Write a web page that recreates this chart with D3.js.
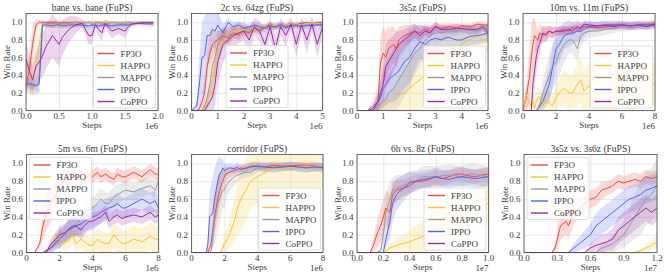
<!DOCTYPE html>
<html>
<head>
<meta charset="utf-8">
<script src="https://cdn.jsdelivr.net/npm/d3@7"></script>
<style>
  body { margin: 0; background: #fff; }
</style>
</head>
<body>
<div id="chart"></div>
<script>
const W = 665, H = 276;

const seriesNames = ["FP3O", "HAPPO", "MAPPO", "IPPO", "CoPPO"];
const seriesColors = ["#f4473a", "#f7c52b", "#9a9a9a", "#5262ee", "#9c2aa8"];

const titles = ["bane vs. bane (FuPS)", "2c vs. 64zg (FuPS)", "3s5z (FuPS)", "10m vs. 11m (FuPS)",
    "5m vs. 6m (FuPS)", "corridor (FuPS)", "6h vs. 8z (FuPS)", "3s5z vs. 3s6z (FuPS)"];
const xMaxes = [2, 5, 5, 8, 8, 8, 1.0, 1.2];
const xTickVals = [
    [0, 0.5, 1.0, 1.5, 2.0], [0, 1, 2, 3, 4, 5], [0, 1, 2, 3, 4, 5], [0, 2, 4, 6, 8],
    [0, 2, 4, 6, 8], [0, 2, 4, 6, 8], [0, 0.2, 0.4, 0.6, 0.8, 1.0], [0, 0.3, 0.6, 0.9, 1.2]
];
const xTickDecimals = [1, 0, 0, 0, 0, 0, 1, 1];
const xExponents = ["1e6", "1e6", "1e6", "1e6", "1e6", "1e6", "1e7", "1e7"];
const yTickVals = [0, 0.2, 0.4, 0.6, 0.8, 1.0];

// bane vs. bane
const steps1 = [0,0.05,0.1,0.15,0.2,0.25,0.3,0.4,0.45,0.5,0.55,0.65,0.75,0.85,0.95,1.0,1.05,1.1,1.15,1.2,1.3,1.4,1.5,1.55,1.6,1.7,1.8,1.93];
const mean1 = [
    [0.28,0.45,0.75,0.97,1.0,1.0,1.0,1.0,1.0,0.99,1.0,1.0,1.0,1.0,1.0,1.0,1.0,1.0,1.0,1.0,1.0,1.0,1.0,1.0,1.0,1.0,1.0,1.0],
    [0.42,0.38,0.35,0.5,0.75,0.97,0.98,0.97,0.97,0.96,0.97,0.97,0.98,1.0,1.0,1.0,1.0,1.0,1.0,1.0,1.0,1.0,1.0,1.0,1.0,1.0,1.0,1.0],
    [0.3,0.3,0.28,0.28,0.35,1.0,0.99,0.98,1.0,0.99,0.98,0.99,1.0,0.99,1.0,0.98,0.99,1.0,0.99,0.98,1.0,0.99,0.99,1.0,0.99,0.99,0.98,0.97],
    [0.3,0.3,0.3,0.28,0.3,0.97,0.97,0.96,0.97,0.97,0.96,0.97,0.97,0.97,0.96,0.97,0.97,0.96,0.97,0.97,0.96,0.97,0.97,0.97,0.98,0.99,1.0,1.0],
    [0.58,0.45,0.35,0.5,0.55,0.62,0.72,0.85,0.8,0.75,0.83,0.92,0.97,0.99,0.85,0.85,0.97,0.92,0.88,0.99,0.9,0.93,0.9,0.95,0.98,0.99,0.99,0.99]
];
const sd1 = [
    [0.1,0.15,0.2,0.06,0.03,0.02,0.02,0.02,0.02,0.02,0.01,0,0,0,0,0,0,0,0,0,0,0,0,0,0,0,0,0],
    [0.15,0.2,0.2,0.25,0.2,0.04,0.03,0.03,0.03,0.03,0.03,0.03,0.02,0.01,0,0,0,0,0,0,0,0,0,0,0,0,0,0],
    [0.1,0.1,0.1,0.1,0.15,0.02,0.02,0.03,0.02,0.02,0.03,0.02,0.02,0.02,0.02,0.03,0.02,0.02,0.02,0.03,0.02,0.02,0.02,0.02,0.02,0.02,0.03,0.03],
    [0.05,0.05,0.06,0.06,0.1,0.03,0.03,0.03,0.03,0.03,0.03,0.03,0.03,0.03,0.03,0.03,0.03,0.03,0.03,0.03,0.03,0.03,0.03,0.03,0.02,0.01,0,0],
    [0.2,0.2,0.15,0.15,0.2,0.25,0.25,0.25,0.25,0.25,0.2,0.15,0.1,0.05,0.1,0.1,0.05,0.08,0.1,0.05,0.08,0.06,0.08,0.05,0.03,0.02,0.02,0.02]
];

// 2c vs. 64zg
const steps2 = [0,0.2,0.3,0.4,0.5,0.6,0.7,0.8,0.9,1.0,1.2,1.4,1.6,1.8,2.0,2.2,2.4,2.6,2.8,3.0,3.2,3.4,3.6,3.8,4.0,4.2,4.4,4.6,4.8,5.0];
const mean2 = [
    [0,0,0.02,0.1,0.2,0.5,0.65,0.75,0.78,0.8,0.85,0.82,0.88,0.86,0.9,0.88,0.93,0.9,0.95,0.97,0.95,0.97,0.96,0.98,0.97,0.99,1.0,0.98,1.0,1.0],
    [0,0,0,0,0.02,0.1,0.2,0.35,0.55,0.7,0.8,0.85,0.9,0.9,0.92,0.9,0.95,0.93,0.96,0.95,0.97,0.96,0.97,0.98,0.98,0.97,0.98,0.99,0.98,0.98],
    [0,0,0,0,0.05,0.15,0.3,0.5,0.6,0.75,0.82,0.85,0.88,0.87,0.9,0.9,0.93,0.92,0.95,0.95,0.94,0.96,0.95,0.97,0.95,0.97,0.96,0.98,0.97,0.98],
    [0,0.05,0.3,0.6,0.62,0.85,0.85,0.92,0.9,0.97,0.88,1.0,0.95,0.97,0.93,0.95,0.97,0.95,0.93,0.96,0.95,0.97,0.94,0.96,0.97,0.95,0.97,0.96,0.97,0.97],
    [0,0,0,0,0,0.05,0.1,0.15,0.3,0.55,0.75,0.8,0.85,0.88,0.9,0.8,0.95,0.9,0.75,0.95,0.7,0.95,0.85,0.98,0.75,0.97,0.8,0.98,0.75,0.95]
];
const sd2 = [
    [0,0,0.02,0.1,0.15,0.2,0.2,0.15,0.12,0.1,0.08,0.08,0.06,0.06,0.05,0.05,0.04,0.04,0.03,0.03,0.03,0.02,0.02,0.02,0.02,0.02,0.01,0.02,0.01,0.01],
    [0,0,0,0,0.02,0.1,0.15,0.2,0.2,0.15,0.1,0.08,0.06,0.06,0.05,0.05,0.04,0.04,0.03,0.03,0.03,0.03,0.02,0.02,0.02,0.02,0.02,0.02,0.02,0.02],
    [0,0,0,0,0.05,0.1,0.15,0.2,0.2,0.15,0.1,0.08,0.06,0.06,0.05,0.05,0.04,0.04,0.03,0.03,0.03,0.03,0.03,0.02,0.03,0.02,0.02,0.02,0.02,0.02],
    [0,0.05,0.3,0.4,0.45,0.35,0.3,0.2,0.2,0.15,0.1,0.05,0.05,0.04,0.04,0.04,0.04,0.04,0.04,0.04,0.04,0.04,0.04,0.04,0.04,0.04,0.04,0.04,0.04,0.04],
    [0,0,0,0,0.02,0.1,0.15,0.2,0.25,0.25,0.2,0.15,0.12,0.12,0.1,0.15,0.1,0.12,0.15,0.1,0.15,0.1,0.12,0.08,0.15,0.08,0.15,0.08,0.15,0.1]
];

// 3s5z
const steps3 = [0,0.4,0.6,0.8,0.9,1.0,1.1,1.2,1.4,1.5,1.6,1.8,2.0,2.2,2.4,2.6,2.8,3.0,3.2,3.5,3.8,4.0,4.3,4.6,4.8,5.0];
const mean3 = [
    [0,0,0.05,0.1,0.55,0.65,0.6,0.7,0.75,0.7,0.8,0.85,0.87,0.9,0.88,0.92,0.9,0.95,0.93,0.95,0.94,0.96,0.95,0.98,0.97,0.97],
    [0,0,0,0,0.02,0.05,0.08,0.1,0.12,0.15,0.18,0.2,0.25,0.3,0.35,0.4,0.45,0.5,0.55,0.62,0.7,0.76,0.8,0.84,0.8,0.82],
    [0,0,0,0.05,0.08,0.1,0.12,0.2,0.25,0.3,0.35,0.45,0.55,0.65,0.7,0.8,0.85,0.88,0.88,0.9,0.9,0.92,0.91,0.9,0.93,0.93],
    [0,0,0.02,0.1,0.15,0.25,0.3,0.35,0.4,0.42,0.45,0.55,0.6,0.7,0.78,0.75,0.8,0.82,0.8,0.83,0.8,0.8,0.84,0.85,0.86,0.88],
    [0,0,0,0.1,0.2,0.3,0.5,0.55,0.65,0.7,0.75,0.8,0.85,0.9,0.85,0.9,0.88,0.95,0.92,0.92,0.93,0.93,0.92,0.92,0.95,0.88]
];
const sd3 = [
    [0,0,0.05,0.15,0.3,0.3,0.3,0.25,0.2,0.2,0.15,0.12,0.1,0.08,0.08,0.06,0.06,0.05,0.05,0.04,0.04,0.03,0.03,0.03,0.03,0.03],
    [0,0,0,0.02,0.05,0.08,0.1,0.1,0.15,0.15,0.2,0.25,0.3,0.35,0.35,0.35,0.3,0.3,0.3,0.25,0.2,0.2,0.15,0.15,0.15,0.15],
    [0,0,0,0.05,0.1,0.1,0.15,0.2,0.25,0.3,0.3,0.3,0.3,0.25,0.2,0.15,0.1,0.08,0.08,0.06,0.05,0.05,0.05,0.05,0.04,0.04],
    [0,0,0.02,0.1,0.15,0.2,0.25,0.25,0.3,0.3,0.3,0.3,0.3,0.25,0.2,0.2,0.15,0.15,0.15,0.12,0.12,0.12,0.1,0.1,0.1,0.1],
    [0,0,0,0.1,0.15,0.2,0.25,0.25,0.2,0.2,0.15,0.12,0.1,0.08,0.08,0.06,0.06,0.05,0.05,0.05,0.05,0.04,0.05,0.05,0.04,0.06]
];

// 10m vs. 11m
const steps4 = [0,0.2,0.4,0.5,0.6,0.7,0.8,0.9,1.0,1.2,1.4,1.6,1.8,2.0,2.2,2.5,2.8,3.0,3.3,3.5,3.7,4.0,4.5,5.0,5.5,6.0,6.5,7.0,7.5,8.0];
const mean4 = [
    [0,0.15,0.4,0.6,0.75,0.85,0.82,0.8,0.88,0.85,0.88,0.9,0.88,0.9,0.9,0.92,0.9,0.95,0.92,0.93,0.95,0.95,0.94,0.95,0.97,0.97,0.96,0.97,0.98,0.98],
    [0,0.18,0.08,0.05,0.1,0.02,0.1,0.15,0.15,0.05,0.12,0.08,0.05,0.15,0.2,0.25,0.2,0.2,0.3,0.35,0.22,0.28,0.2,0.25,0.2,0.3,0.25,0.3,0.4,0.28],
    [0,0,0,0,0,0,0,0.02,0.05,0.2,0.3,0.4,0.5,0.55,0.65,0.75,0.8,0.8,0.7,0.85,0.88,0.9,0.9,0.92,0.93,0.95,0.94,0.95,0.96,0.97],
    [0,0,0,0,0,0,0,0.02,0.05,0.1,0.2,0.3,0.5,0.7,0.75,0.85,0.87,0.88,0.9,0.9,0.92,0.95,0.96,0.97,0.97,0.97,0.96,0.97,0.97,0.97],
    [0,0,0,0,0.3,0.45,0.6,0.7,0.75,0.88,0.85,0.9,0.88,0.9,0.9,0.9,0.92,0.9,0.95,0.93,0.98,0.97,0.96,0.97,0.95,0.97,0.96,0.97,0.95,0.98]
];
const sd4 = [
    [0,0.15,0.3,0.35,0.3,0.2,0.15,0.12,0.1,0.1,0.08,0.06,0.06,0.05,0.05,0.05,0.04,0.04,0.04,0.04,0.03,0.03,0.03,0.03,0.03,0.03,0.03,0.03,0.03,0.03],
    [0,0.15,0.1,0.1,0.1,0.1,0.1,0.12,0.12,0.1,0.12,0.12,0.12,0.15,0.15,0.2,0.2,0.2,0.25,0.25,0.25,0.25,0.25,0.25,0.25,0.25,0.25,0.25,0.25,0.25],
    [0,0,0,0,0,0,0,0.02,0.05,0.15,0.2,0.25,0.25,0.25,0.25,0.2,0.15,0.15,0.15,0.12,0.1,0.08,0.06,0.06,0.05,0.05,0.04,0.04,0.03,0.03],
    [0,0,0,0,0,0,0,0.02,0.05,0.1,0.15,0.2,0.25,0.2,0.2,0.15,0.15,0.12,0.12,0.1,0.08,0.06,0.05,0.05,0.05,0.05,0.05,0.05,0.05,0.05],
    [0,0,0,0,0.2,0.2,0.2,0.15,0.12,0.08,0.08,0.06,0.06,0.05,0.05,0.05,0.05,0.05,0.05,0.05,0.04,0.04,0.04,0.04,0.04,0.04,0.04,0.04,0.04,0.04]
];

// 5m vs. 6m
const steps5 = [0,0.5,0.8,1.0,1.2,1.5,1.8,2.0,2.3,2.5,2.8,3.0,3.3,3.5,3.8,4.0,4.3,4.5,4.8,5.0,5.3,5.5,5.8,6.0,6.5,7.0,7.5,7.8,8.0];
const mean5 = [
    [0,0,0.1,0.3,0.45,0.55,0.65,0.75,0.8,0.85,0.9,0.82,0.85,0.8,0.88,0.85,0.9,0.85,0.88,0.85,0.82,0.88,0.85,0.85,0.9,0.85,0.93,0.88,0.88],
    [0,0,0,0,0.02,0.1,0.15,0.15,0.12,0.12,0.2,0.1,0.15,0.12,0.08,0.08,0.15,0.12,0.1,0.1,0.2,0.15,0.1,0.1,0.15,0.12,0.18,0.15,0.15],
    [0,0,0,0,0.02,0.05,0.1,0.15,0.2,0.25,0.28,0.3,0.38,0.45,0.48,0.5,0.55,0.6,0.55,0.55,0.62,0.65,0.68,0.7,0.68,0.72,0.75,0.7,0.8],
    [0,0,0,0,0.02,0.05,0.12,0.15,0.2,0.25,0.3,0.3,0.32,0.35,0.38,0.4,0.42,0.45,0.48,0.5,0.52,0.55,0.5,0.5,0.55,0.6,0.55,0.58,0.5],
    [0,0,0,0,0,0.1,0.15,0.2,0.22,0.25,0.28,0.3,0.25,0.3,0.35,0.35,0.38,0.4,0.45,0.35,0.4,0.42,0.38,0.4,0.42,0.4,0.45,0.4,0.42]
];
const sd5 = [
    [0,0,0.05,0.15,0.2,0.2,0.15,0.12,0.1,0.1,0.08,0.08,0.08,0.08,0.07,0.07,0.07,0.07,0.07,0.07,0.07,0.07,0.07,0.07,0.07,0.07,0.07,0.07,0.07],
    [0,0,0,0,0.02,0.08,0.1,0.1,0.1,0.1,0.1,0.1,0.1,0.1,0.1,0.1,0.12,0.12,0.12,0.12,0.15,0.15,0.15,0.15,0.15,0.15,0.15,0.15,0.15],
    [0,0,0,0,0.02,0.05,0.08,0.1,0.1,0.12,0.12,0.12,0.12,0.12,0.12,0.12,0.12,0.12,0.12,0.12,0.12,0.12,0.1,0.1,0.1,0.1,0.1,0.1,0.1],
    [0,0,0,0,0.02,0.05,0.08,0.1,0.1,0.1,0.12,0.12,0.12,0.12,0.12,0.12,0.12,0.12,0.12,0.12,0.12,0.12,0.12,0.12,0.12,0.12,0.12,0.12,0.12],
    [0,0,0,0,0,0.05,0.08,0.1,0.1,0.1,0.1,0.1,0.1,0.1,0.1,0.1,0.08,0.08,0.08,0.08,0.08,0.08,0.08,0.08,0.08,0.08,0.08,0.08,0.08]
];

// corridor
const steps6 = [0,0.9,1.0,1.1,1.2,1.3,1.4,1.5,1.6,1.7,1.8,1.9,2.0,2.1,2.3,2.6,2.8,3.0,3.3,3.6,4.0,4.5,5.0,5.5,6.0,6.5,7.0,7.5,8.0];
const mean6 = [
    [0,0,0,0.05,0.1,0.25,0.4,0.5,0.6,0.68,0.75,0.8,0.85,0.88,0.9,0.92,0.93,0.95,0.94,0.97,0.97,0.96,0.98,0.97,0.97,0.98,0.98,0.97,0.96],
    [0,0,0,0,0,0,0,0,0,0,0.02,0.05,0.1,0.12,0.2,0.35,0.5,0.6,0.7,0.8,0.85,0.9,0.95,0.94,0.95,0.96,0.97,0.96,0.97],
    [0,0,0,0,0.02,0.2,0.35,0.45,0.55,0.6,0.65,0.7,0.7,0.75,0.8,0.85,0.87,0.88,0.9,0.9,0.95,0.95,0.96,0.96,0.97,0.96,0.95,0.96,0.96],
    [0,0,0.1,0.4,0.42,0.45,0.6,0.7,0.8,0.88,0.9,0.95,0.92,0.93,0.95,0.94,0.96,0.93,0.95,0.96,0.97,0.96,0.95,0.96,0.97,0.96,0.95,0.96,0.95],
    [0,0,0,0,0,0,0,0,0,0,0,0,0,0,0,0,0,0,0,0,0,0,0,0,0,0,0,0,0]
];
const sd6 = [
    [0,0,0,0.05,0.1,0.15,0.2,0.2,0.2,0.2,0.15,0.12,0.1,0.08,0.06,0.05,0.05,0.04,0.04,0.04,0.04,0.04,0.04,0.04,0.04,0.04,0.04,0.04,0.04],
    [0,0,0,0,0,0,0,0,0,0,0.02,0.05,0.1,0.12,0.15,0.25,0.3,0.35,0.35,0.3,0.3,0.25,0.25,0.25,0.25,0.25,0.25,0.25,0.25],
    [0,0,0,0,0.02,0.15,0.25,0.3,0.3,0.3,0.25,0.2,0.2,0.15,0.12,0.1,0.08,0.06,0.06,0.05,0.05,0.05,0.05,0.05,0.05,0.05,0.05,0.05,0.05],
    [0,0,0.1,0.3,0.35,0.4,0.35,0.3,0.25,0.2,0.15,0.1,0.08,0.06,0.05,0.05,0.05,0.05,0.05,0.05,0.05,0.05,0.05,0.05,0.05,0.05,0.05,0.05,0.05],
    [0,0,0,0,0,0,0,0,0,0,0,0,0,0,0,0,0,0,0,0,0,0,0,0,0,0,0,0,0]
];

// 6h vs. 8z
const steps7 = [0,0.1,0.13,0.15,0.18,0.2,0.22,0.25,0.27,0.3,0.35,0.4,0.45,0.5,0.55,0.6,0.65,0.7,0.75,0.8,0.85,0.9,0.95,1.0];
const mean7 = [
    [0,0,0.1,0.2,0.3,0.4,0.5,0.45,0.65,0.7,0.72,0.75,0.8,0.8,0.82,0.85,0.83,0.85,0.88,0.88,0.86,0.85,0.87,0.88],
    [0,0,0,0,0,0,0.02,0.05,0.06,0.08,0.1,0.12,0.15,0.18,0.22,0.25,0.3,0.35,0.38,0.4,0.45,0.48,0.52,0.55],
    [0,0,0,0,0.02,0.2,0.45,0.6,0.7,0.72,0.75,0.8,0.8,0.85,0.85,0.85,0.86,0.87,0.86,0.85,0.88,0.88,0.86,0.85],
    [0,0,0,0,0,0,0.15,0.35,0.55,0.65,0.72,0.78,0.8,0.82,0.83,0.85,0.83,0.82,0.84,0.85,0.84,0.83,0.84,0.85],
    [0,0,0,0,0,0,0,0,0,0,0,0,0,0,0,0,0,0,0,0,0,0,0,0]
];
const sd7 = [
    [0,0,0.1,0.15,0.2,0.2,0.2,0.2,0.15,0.12,0.1,0.1,0.08,0.08,0.08,0.08,0.08,0.08,0.08,0.08,0.08,0.08,0.08,0.08],
    [0,0,0,0,0,0,0.02,0.05,0.06,0.08,0.1,0.12,0.15,0.18,0.2,0.22,0.25,0.25,0.25,0.25,0.25,0.25,0.25,0.25],
    [0,0,0,0,0.02,0.15,0.2,0.2,0.15,0.15,0.12,0.12,0.12,0.12,0.12,0.12,0.12,0.12,0.12,0.12,0.12,0.12,0.12,0.12],
    [0,0,0,0,0,0,0.1,0.2,0.2,0.18,0.15,0.12,0.1,0.1,0.1,0.1,0.1,0.1,0.1,0.1,0.1,0.1,0.1,0.1],
    [0,0,0,0,0,0,0,0,0,0,0,0,0,0,0,0,0,0,0,0,0,0,0,0]
];

// 3s5z vs. 3s6z
const steps8 = [0,0.25,0.28,0.33,0.38,0.4,0.45,0.5,0.55,0.6,0.65,0.7,0.75,0.8,0.85,0.9,0.95,1.0,1.05,1.1,1.15,1.2];
const mean8 = [
    [0,0,0.05,0.3,0.35,0.3,0.45,0.5,0.55,0.6,0.62,0.7,0.72,0.75,0.8,0.78,0.8,0.82,0.8,0.85,0.83,0.85],
    [0,0,0,0,0,0,0,0,0,0,0,0,0,0,0,0,0,0,0.02,0.05,0.08,0.12],
    [0,0,0,0,0,0,0,0,0,0,0,0.05,0.07,0.1,0.15,0.2,0.3,0.4,0.5,0.6,0.65,0.75],
    [0,0,0,0,0,0,0.05,0.1,0.15,0.2,0.3,0.35,0.4,0.45,0.5,0.55,0.6,0.62,0.65,0.7,0.72,0.75],
    [0,0,0,0,0,0,0,0,0,0.05,0.08,0.1,0.12,0.15,0.25,0.3,0.35,0.4,0.45,0.5,0.45,0.5]
];
const sd8 = [
    [0,0,0.05,0.15,0.15,0.15,0.12,0.12,0.1,0.1,0.1,0.1,0.08,0.08,0.08,0.08,0.08,0.08,0.08,0.08,0.08,0.08],
    [0,0,0,0,0,0,0,0,0,0,0,0,0,0,0,0,0,0,0.02,0.04,0.06,0.08],
    [0,0,0,0,0,0,0,0,0,0,0,0.05,0.06,0.1,0.12,0.15,0.2,0.25,0.3,0.3,0.3,0.3],
    [0,0,0,0,0,0,0.05,0.08,0.1,0.12,0.15,0.15,0.15,0.15,0.15,0.15,0.15,0.15,0.15,0.15,0.15,0.15],
    [0,0,0,0,0,0,0,0,0,0.05,0.08,0.1,0.1,0.12,0.15,0.15,0.15,0.15,0.15,0.15,0.15,0.15]
];

const allSteps = [steps1, steps2, steps3, steps4, steps5, steps6, steps7, steps8];
const allMeans = [mean1, mean2, mean3, mean4, mean5, mean6, mean7, mean8];
const allSds = [sd1, sd2, sd3, sd4, sd5, sd6, sd7, sd8];

// plot boxes [left, right, top, bottom] and legend placement
const boxes = [
    [26, 158, 13.5, 110.5], [191.5, 322.5, 13.5, 110.5], [357, 488, 13.5, 110.5], [523, 655, 13.5, 110.5],
    [26.5, 158.5, 154.5, 252.5], [191.5, 323, 154.5, 252.5], [357, 488.5, 154.5, 252.5], [524, 657, 154.5, 252.5]
];
const legendLocs = ["lower right", "lower center", "lower right", "lower right",
    "upper left", "lower right", "lower right", "upper left"];

const textColor = "#3a3a3a";

const svg = d3.select("#chart").append("svg")
    .attr("width", W).attr("height", H)
    .attr("font-family", "'Liberation Serif', 'Times New Roman', Times, serif")
    .attr("font-weight", "normal");

boxes.forEach(function (b, p) {
    const [l, r, t, bt] = b;
    const x = d3.scaleLinear().domain([0, xMaxes[p]]).range([l, r]);
    const y = d3.scaleLinear().domain([0, 1.1]).range([bt, t]);
    const g = svg.append("g");

    g.append("clipPath").attr("id", "clip" + p)
        .append("rect").attr("x", l).attr("y", t).attr("width", r - l).attr("height", bt - t);

    // grid
    g.append("g").call(d3.axisBottom(x).tickValues(xTickVals[p]).tickSize(-(bt - t)).tickFormat(""))
        .attr("transform", `translate(0,${bt})`)
        .call(s => s.select(".domain").remove())
        .selectAll("line").attr("stroke", "#e3e3e3").attr("stroke-width", 0.8);
    g.append("g").call(d3.axisLeft(y).tickValues(yTickVals).tickSize(-(r - l)).tickFormat(""))
        .attr("transform", `translate(${l},0)`)
        .call(s => s.select(".domain").remove())
        .selectAll("line").attr("stroke", "#e3e3e3").attr("stroke-width", 0.8);

    const steps = allSteps[p], means = allMeans[p], sds = allSds[p];
    const plot = g.append("g").attr("clip-path", `url(#clip${p})`);

    // shaded bands
    means.forEach(function (m, s) {
        const area = d3.area()
            .x((d, i) => x(steps[i]))
            .y0((d, i) => y(m[i] - sds[s][i]))
            .y1((d, i) => y(m[i] + sds[s][i]));
        plot.append("path").datum(m).attr("d", area)
            .attr("fill", seriesColors[s]).attr("fill-opacity", 0.2).attr("stroke", "none");
    });
    // mean lines
    means.forEach(function (m, s) {
        const line = d3.line().x((d, i) => x(steps[i])).y(d => y(d));
        g.append("path").datum(m).attr("d", line)
            .attr("fill", "none").attr("stroke", seriesColors[s]).attr("stroke-width", 1.0)
            .attr("stroke-linejoin", "round");
    });

    // frame
    g.append("rect").attr("x", l).attr("y", t).attr("width", r - l).attr("height", bt - t)
        .attr("fill", "none").attr("stroke", "#4a4a4a").attr("stroke-width", 0.8);

    // tick labels
    const fmtX = d3.format("." + xTickDecimals[p] + "f");
    g.selectAll(".xt").data(xTickVals[p]).enter().append("text")
        .attr("x", d => x(d)).attr("y", bt + 8.5).attr("fill", textColor)
        .attr("text-anchor", "middle").style("font-size", "9px").text(d => fmtX(d));
    g.selectAll(".yt").data(yTickVals).enter().append("text")
        .attr("x", l - 3.5).attr("y", d => y(d) + 3).attr("fill", textColor)
        .attr("text-anchor", "end").style("font-size", "9px").text(d => d3.format(".1f")(d));

    // labels
    g.append("text").attr("x", (l + r) / 2).attr("y", t - 3).attr("fill", textColor)
        .attr("text-anchor", "middle").style("font-size", "9.5px").text(titles[p]);
    g.append("text").attr("x", (l + r) / 2).attr("y", bt + 17).attr("fill", textColor)
        .attr("text-anchor", "middle").style("font-size", "9px").text("Steps");
    g.append("text").attr("x", r).attr("y", bt + 18.5).attr("fill", textColor)
        .attr("text-anchor", "end").style("font-size", "9px").text(xExponents[p]);
    g.append("text").attr("transform", `translate(${l - 16.5},${(t + bt) / 2}) rotate(-90)`)
        .attr("fill", textColor).attr("text-anchor", "middle").style("font-size", "9px").text("Win Rate");

    // legend
    const lw = 62, lh = 62;
    let lx, ly;
    if (legendLocs[p] === "upper left") { lx = l + 3; ly = t + 3; }
    else if (legendLocs[p] === "lower center") { lx = (l + r) / 2 - lw / 2; ly = bt - 3 - lh; }
    else { lx = r - 2.5 - lw; ly = bt - 2.5 - lh; }
    const lg = g.append("g").attr("transform", `translate(${lx},${ly})`);
    lg.append("rect").attr("width", lw).attr("height", lh).attr("rx", 2)
        .attr("fill", "#fff").attr("fill-opacity", 0.8).attr("stroke", "#d6d6d6").attr("stroke-width", 0.8);
    seriesNames.forEach(function (name, s) {
        const yy = 7.5 + s * 12;
        lg.append("line").attr("x1", 4).attr("x2", 21).attr("y1", yy).attr("y2", yy)
            .attr("stroke", seriesColors[s]).attr("stroke-width", 1.4);
        lg.append("text").attr("x", 27).attr("y", yy + 3.2).attr("fill", textColor)
            .style("font-size", "9px").text(name);
    });
});
</script>
</body>
</html>
